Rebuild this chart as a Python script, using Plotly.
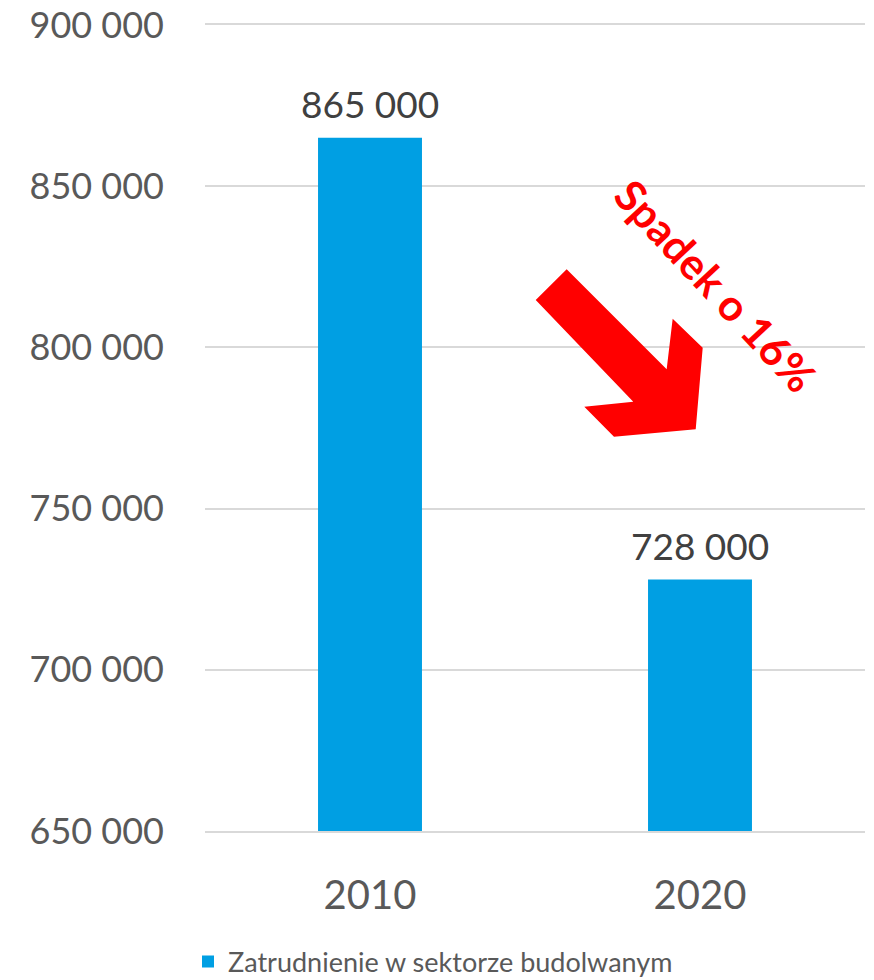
import plotly.graph_objects as go

years = ["2010", "2020"]
employment = [865000, 728000]
series_name = "Zatrudnienie w sektorze budolwanym"
label_texts = ["865 000", "728 000"]
note_text = "Spadek o 16%"

W, H = 874, 980
L, R, T, B = 205, 9, 25, 149
PW, PH = W - L - R, H - T - B

def px(x, y):
    return (x - L) / PW, (H - B - y) / PH

# decorative block arrow (pixel positions converted to paper coordinates)
arrow_px = [(566.7, 269.3), (666.7, 369.3), (672.7, 318.7), (702.7, 347.7),
            (695.7, 429.3), (614.0, 436.7), (584.3, 406.7), (633.3, 401.7),
            (535.7, 300.0)]
pts = [px(x, y) for x, y in arrow_px]
path = "M " + " L ".join(f"{a:.4f},{b:.4f}" for a, b in pts) + " Z"

fig = go.Figure()
fig.add_trace(go.Bar(
    x=years, y=employment, name=series_name,
    marker=dict(color="#009FE3", line=dict(width=0)),
    width=0.315, showlegend=True,
))

for i, (v, t) in enumerate(zip(employment, label_texts)):
    fig.add_annotation(x=i, y=v, text=t, showarrow=False, yanchor="bottom",
                       xanchor="center", yshift=10,
                       font=dict(family="Lato", size=37, color="#404040"))

tx, ty = px(716, 285)
fig.add_annotation(xref="paper", yref="paper", x=tx, y=ty, text=f"<b>{note_text}</b>",
                   showarrow=False, textangle=47, xanchor="center", yanchor="middle",
                   font=dict(family="Lato", size=43, color="#FF0000"))

fig.add_shape(type="path", xref="paper", yref="paper", path=path,
              fillcolor="#FF0000", line=dict(width=0), layer="above")

lx, ly = px(188, 962)
fig.update_layout(
    width=W, height=H,
    margin=dict(l=L, r=R, t=T, b=B, autoexpand=False),
    paper_bgcolor="white", plot_bgcolor="white",
    separators=". ",
    font=dict(family="Lato", color="#595959"),
    xaxis=dict(type="category", range=[-0.5, 1.5], autorange=False,
               showgrid=False, showline=True, mirror=True,
               linecolor="#D9D9D9", linewidth=1.5, ticks="",
               tickfont=dict(size=40, color="#595959"), ticklabelstandoff=28),
    yaxis=dict(range=[650000, 900000], dtick=50000, tickformat=",d",
               showgrid=True, gridcolor="#D9D9D9", gridwidth=1.5,
               zeroline=False, showline=False, ticks="",
               tickfont=dict(size=36, color="#595959"), ticklabelstandoff=40),
    legend=dict(orientation="h", x=lx, y=ly, xanchor="left", yanchor="middle",
                font=dict(size=27, color="#595959"), bgcolor="rgba(0,0,0,0)"),
    bargap=0.5,
)

fig.write_html("out.html")
